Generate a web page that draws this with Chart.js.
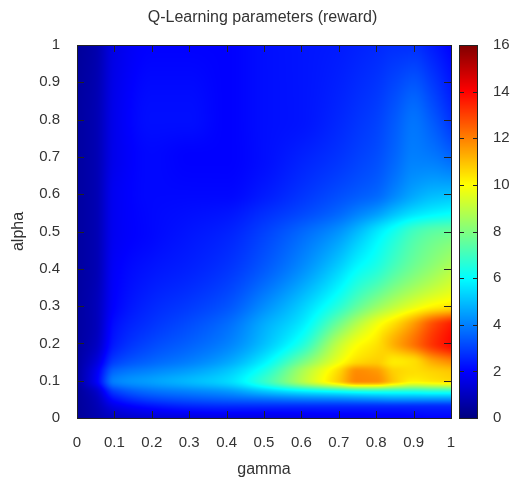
<!DOCTYPE html>
<html><head><meta charset="utf-8">
<script src="https://cdn.jsdelivr.net/npm/chart.js@4.4.1/dist/chart.umd.min.js"></script>
<style>html,body{margin:0;padding:0;background:#fff;}#wrap{width:513px;height:483px;}</style>
</head><body><div id="wrap"><canvas id="c" width="513" height="483"></canvas></div>
<script>
// grid coordinates
const gammaValues = [0, 0.05, 0.1, 0.2, 0.3, 0.4, 0.5, 0.6, 0.7, 0.75, 0.8, 0.85, 0.9, 0.95, 1.0];
const alphaValues = [0, 0.03, 0.05, 0.07, 0.1, 0.125, 0.15, 0.2, 0.25, 0.3, 0.4, 0.5, 0.55, 0.6, 0.7, 0.8, 1.0];
// reward per alpha row (one value per gamma)
const rewardA000 = [0.4, 0.7, 1.0, 1.3, 1.4, 1.5, 1.5, 1.6, 1.7, 1.7, 1.8, 1.8, 1.9, 2.0, 2.0];
const rewardA003 = [0.4, 0.8, 1.6, 2.2, 2.5, 2.6, 2.6, 2.6, 2.6, 2.6, 2.6, 2.6, 2.6, 2.6, 2.6];
const rewardA005 = [0.4, 0.9, 2.2, 3.0, 3.3, 3.5, 3.7, 3.9, 4.0, 4.1, 4.2, 4.3, 4.3, 4.3, 4.3];
const rewardA007 = [0.4, 1.1, 2.9, 3.7, 4.0, 4.3, 5.0, 5.6, 6.0, 6.2, 6.3, 6.3, 6.3, 6.4, 6.4];
const rewardA010 = [0.5, 1.8, 4.0, 4.5, 4.9, 5.4, 6.8, 8.8, 10.8, 11.9, 11.8, 10.8, 10.2, 10.4, 10.6];
const rewardA0125 = [0.5, 1.7, 3.6, 4.1, 4.5, 5.1, 6.4, 8.6, 10.6, 11.8, 11.6, 10.7, 10.5, 10.7, 10.9];
const rewardA015 = [0.5, 1.4, 3.0, 3.6, 4.0, 4.6, 5.8, 7.8, 9.8, 10.6, 10.8, 10.3, 10.5, 11.3, 11.8];
const rewardA020 = [0.5, 1.0, 2.4, 3.1, 3.5, 4.0, 5.0, 6.4, 9.0, 9.9, 10.4, 11.3, 12.2, 13.2, 13.9];
const rewardA025 = [0.5, 0.9, 2.2, 2.8, 3.2, 3.7, 4.7, 5.7, 7.8, 8.9, 9.8, 10.6, 11.6, 12.8, 13.6];
const rewardA030 = [0.5, 0.9, 2.0, 2.6, 2.9, 3.3, 4.2, 5.2, 6.6, 7.5, 8.3, 9.0, 9.6, 10.1, 10.4];
const rewardA040 = [0.5, 0.8, 1.9, 2.3, 2.5, 2.8, 3.4, 4.2, 5.3, 6.0, 6.5, 7.2, 7.8, 8.3, 8.8];
const rewardA050 = [0.5, 0.8, 1.8, 2.1, 2.3, 2.5, 3.0, 3.6, 4.3, 4.9, 5.6, 6.3, 7.0, 7.4, 7.6];
const rewardA055 = [0.5, 0.8, 1.8, 2.1, 2.2, 2.3, 2.7, 3.1, 3.6, 4.0, 4.4, 5.0, 5.5, 5.8, 6.0];
const rewardA060 = [0.5, 0.8, 1.8, 2.1, 2.1, 2.1, 2.4, 2.8, 3.2, 3.4, 3.6, 4.1, 4.6, 4.9, 5.0];
const rewardA070 = [0.5, 0.8, 1.7, 2.1, 2.0, 2.0, 2.2, 2.5, 2.8, 3.0, 3.2, 3.6, 4.0, 3.9, 3.6];
const rewardA080 = [0.5, 0.8, 1.7, 2.2, 2.2, 2.0, 2.2, 2.3, 2.6, 2.8, 3.0, 3.4, 3.8, 3.4, 2.8];
const rewardA100 = [0.4, 0.7, 1.6, 2.0, 2.0, 2.0, 2.2, 2.3, 2.4, 2.5, 2.6, 2.7, 2.7, 2.4, 2.0];
const rewardRows = [rewardA000, rewardA003, rewardA005, rewardA007, rewardA010, rewardA0125, rewardA015,
  rewardA020, rewardA025, rewardA030, rewardA040, rewardA050, rewardA055, rewardA060, rewardA070,
  rewardA080, rewardA100];

const xTicks = [0, 0.1, 0.2, 0.3, 0.4, 0.5, 0.6, 0.7, 0.8, 0.9, 1];
const xTickLabels = ['0', '0.1', '0.2', '0.3', '0.4', '0.5', '0.6', '0.7', '0.8', '0.9', '1'];
const yTicks = [0, 0.1, 0.2, 0.3, 0.4, 0.5, 0.6, 0.7, 0.8, 0.9, 1];
const yTickLabels = ['0', '0.1', '0.2', '0.3', '0.4', '0.5', '0.6', '0.7', '0.8', '0.9', '1'];
const cbTicks = [0, 2, 4, 6, 8, 10, 12, 14, 16];
const cbTickLabels = ['0', '2', '4', '6', '8', '10', '12', '14', '16'];

const FONT = '"Liberation Sans", Arial, sans-serif';
const TXT = '#333';

const points = [];
alphaValues.forEach((a, i) => gammaValues.forEach((g, j) => points.push({x: g, y: a, v: rewardRows[i][j]})));

// monotone cubic (PCHIP) helpers for smooth shading between grid nodes
function pchipSlopes(xs, ys) {
  const n = xs.length, h = [], del = [], d = new Array(n);
  for (let k = 0; k < n - 1; k++) { h[k] = xs[k + 1] - xs[k]; del[k] = (ys[k + 1] - ys[k]) / h[k]; }
  d[0] = del[0]; d[n - 1] = del[n - 2];
  for (let k = 1; k < n - 1; k++) {
    if (del[k - 1] * del[k] <= 0) d[k] = 0;
    else {
      const w1 = 2 * h[k] + h[k - 1], w2 = h[k] + 2 * h[k - 1];
      d[k] = (w1 + w2) / (w1 / del[k - 1] + w2 / del[k]);
    }
  }
  return d;
}
function pchipEval(xs, ys, ds, x) {
  let k = 0;
  while (k < xs.length - 2 && x > xs[k + 1]) k++;
  const h = xs[k + 1] - xs[k];
  const t = Math.max(0, Math.min(1, (x - xs[k]) / h));
  const t2 = t * t, t3 = t2 * t;
  return (2 * t3 - 3 * t2 + 1) * ys[k] + (t3 - 2 * t2 + t) * h * ds[k] +
         (-2 * t3 + 3 * t2) * ys[k + 1] + (t3 - t2) * h * ds[k + 1];
}
function clamp(v) { return Math.max(0, Math.min(1, v)); }
function jet(scale, v) {
  const t = clamp((v - scale.min) / (scale.max - scale.min));
  return [clamp(1.5 - Math.abs(4 * t - 3)), clamp(1.5 - Math.abs(4 * t - 2)), clamp(1.5 - Math.abs(4 * t - 1))];
}

const heatPlugin = {
  id: 'heat',
  afterDatasetsDraw(chart) {
    const {ctx, chartArea: ca, scales: {x, y, cb}} = chart;
    const L = Math.round(ca.left), T = Math.round(ca.top);
    const R = Math.round(ca.right), B = Math.round(ca.bottom);
    const W = R - L, H = B - T;
    const rowSlopes = rewardRows.map(r => pchipSlopes(gammaValues, r));
    const alphasPx = [];
    for (let py = 0; py < H; py++) alphasPx.push(y.getValueForPixel(T + py + 0.5));
    const img = ctx.createImageData(W, H);
    for (let px = 0; px < W; px++) {
      const g = x.getValueForPixel(L + px + 0.5);
      const col = rewardRows.map((r, i) => pchipEval(gammaValues, r, rowSlopes[i], g));
      const colD = pchipSlopes(alphaValues, col);
      for (let py = 0; py < H; py++) {
        const c = jet(cb, pchipEval(alphaValues, col, colD, alphasPx[py]));
        const k = (py * W + px) * 4;
        img.data[k] = Math.round(c[0] * 255);
        img.data[k + 1] = Math.round(c[1] * 255);
        img.data[k + 2] = Math.round(c[2] * 255);
        img.data[k + 3] = 255;
      }
    }
    ctx.putImageData(img, L, T);

    // colour box
    const cbL = R + 8, cbW = 19;
    for (let py = T; py < B; py++) {
      const c = jet(cb, cb.getValueForPixel(py + 0.5));
      ctx.fillStyle = `rgb(${Math.round(c[0]*255)},${Math.round(c[1]*255)},${Math.round(c[2]*255)})`;
      ctx.fillRect(cbL, py, cbW, 1);
    }
    ctx.save();
    ctx.strokeStyle = '#222';
    ctx.lineWidth = 1;
    ctx.strokeRect(cbL + 0.5, T + 0.5, cbW - 1, H);
    ctx.beginPath();
    cbTicks.forEach(v => {
      if (v === cb.min || v === cb.max) return;
      const p = Math.round(cb.getPixelForValue(v)) + 0.5;
      ctx.moveTo(cbL, p); ctx.lineTo(cbL + 5, p);
      ctx.moveTo(cbL + cbW - 5, p); ctx.lineTo(cbL + cbW, p);
    });
    ctx.stroke();

    // plot border + mirrored inward ticks
    ctx.strokeRect(L + 0.5, T + 0.5, W, H);
    ctx.beginPath();
    const TL = 7;
    xTicks.forEach(v => {
      if (v === x.min || v === x.max) return;
      const p = Math.round(x.getPixelForValue(v)) + 0.5;
      ctx.moveTo(p, B); ctx.lineTo(p, B - TL);
      ctx.moveTo(p, T); ctx.lineTo(p, T + TL);
    });
    yTicks.forEach(v => {
      if (v === y.min || v === y.max) return;
      const p = Math.round(y.getPixelForValue(v)) + 0.5;
      ctx.moveTo(L, p); ctx.lineTo(L + TL, p);
      ctx.moveTo(R, p); ctx.lineTo(R - TL, p);
    });
    ctx.stroke();
    ctx.restore();
  }
};

const tickFont = {family: FONT, size: 15};
const labelFont = {family: FONT, size: 16};
new Chart(document.getElementById('c'), {
  type: 'scatter',
  data: {datasets: [{label: 'reward', data: points, pointRadius: 0, pointHoverRadius: 0, showLine: false}]},
  options: {
    responsive: false, animation: false, events: [],
    layout: {padding: {left: 12, right: 0, top: 0, bottom: 0}},
    plugins: {
      legend: {display: false},
      tooltip: {enabled: false},
      title: {display: true, text: 'Q-Learning parameters (reward)', color: TXT,
        font: {family: FONT, size: 16, weight: 'normal'}, padding: {top: 8, bottom: 17.8}}
    },
    scales: {
      x: {
        type: 'linear', position: 'bottom', min: 0, max: 1,
        grid: {display: false, drawTicks: true, tickLength: 10}, border: {display: false},
        afterBuildTicks: s => { s.ticks = xTicks.map(v => ({value: v})); },
        ticks: {callback: (v, i) => xTickLabels[i], padding: 6, color: TXT, font: tickFont, maxRotation: 0, autoSkip: false},
        title: {display: true, text: 'gamma', color: TXT, font: labelFont, padding: {top: 0, bottom: 3.9}},
        afterFit: s => { s.height = 65; }
      },
      y: {
        type: 'linear', position: 'left', min: 0, max: 1,
        grid: {display: false, drawTicks: true, tickLength: 10}, border: {display: false},
        afterBuildTicks: s => { s.ticks = yTicks.map(v => ({value: v})); },
        ticks: {callback: (v, i) => yTickLabels[i], padding: 7, color: TXT, font: tickFont, autoSkip: false},
        title: {display: true, text: 'alpha', color: TXT, font: labelFont, padding: {top: -2.6, bottom: 0}},
        afterFit: s => { s.width = 65; }
      },
      cb: {
        type: 'linear', position: 'right', min: 0, max: 16,
        grid: {display: false, drawTicks: true, tickLength: 34}, border: {display: false},
        afterBuildTicks: s => { s.ticks = cbTicks.map(v => ({value: v})); },
        ticks: {callback: (v, i) => cbTickLabels[i], padding: 8, color: TXT, font: tickFont, autoSkip: false},
        afterFit: s => { s.width = 62; }
      }
    }
  },
  plugins: [heatPlugin]
});
</script></body></html>
